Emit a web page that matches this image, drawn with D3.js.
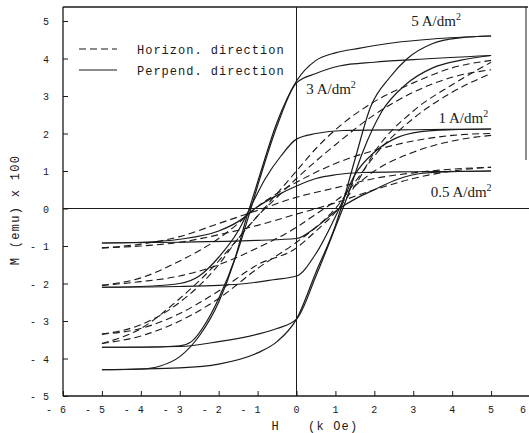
<!DOCTYPE html>
<html>
<head>
<meta charset="utf-8">
<script src="https://cdn.jsdelivr.net/npm/d3@7"></script>
<style>
html,body{margin:0;padding:0;background:#fff;}
svg{display:block;}
</style>
</head>
<body>
<svg id="chart" width="529" height="433"></svg>
<script>
// ---- data (H in kOe, M in emu x 100) ----
const xTicks = [-6,-5,-4,-3,-2,-1,0,1,2,3,4,5,6];
const yTicks = [-5,-4,-3,-2,-1,0,1,2,3,4,5];

// Perpendicular direction (solid)
const perp5Upper = [[-5,-4.3],[-4,-4.28],[-3.5,-4.2],[-3,-3.95],[-2.5,-3.4],[-2,-2.5],[-1.6,-1.4],[-1.3,-0.3],[-1,0.7],[-0.5,2.3],[0,3.4],[0.5,3.95],[1,4.15],[1.6,4.27],[2.5,4.42],[3.5,4.52],[5,4.6]];
const perp5Lower = [[-5,-4.3],[-3,-4.25],[-2,-4.15],[-1,-3.85],[-0.5,-3.55],[0,-2.95],[0.5,-1.7],[1,-0.45],[1.2,0.2],[1.5,1.3],[1.9,2.7],[2.4,3.5],[2.85,4.0],[3.5,4.4],[4.2,4.55],[5,4.6]];
const perp3Upper = [[-5,-3.7],[-4,-3.7],[-3,-3.66],[-2.7,-3.55],[-2.3,-3.0],[-2,-2.4],[-1.5,-1.1],[-1.2,-0.1],[-1,0.6],[-0.5,2.2],[0,3.35],[0.5,3.6],[1.1,3.8],[2,3.9],[3,3.97],[5,4.08]];
const perp3Lower = [[-5,-3.7],[-3,-3.68],[-2,-3.55],[-1,-3.35],[-0.5,-3.2],[0,-2.95],[0.5,-1.8],[1,-0.5],[1.3,0.3],[1.7,1.5],[2.2,2.6],[2.8,3.3],[3.5,3.75],[4.2,3.95],[5,4.08]];
const perp1Upper = [[-5,-2.1],[-4,-2.08],[-3,-2.0],[-2.5,-1.8],[-2,-1.3],[-1.5,-0.6],[-1.2,0],[-0.8,0.8],[-0.4,1.4],[0,1.85],[0.5,2.0],[1.2,2.08],[3,2.1],[5,2.12]];
const perp1Lower = [[-5,-2.1],[-3,-2.08],[-2,-2.05],[-1.3,-2.0],[-0.6,-1.9],[0,-1.8],[0.5,-1.2],[1.1,0],[1.5,0.9],[2,1.5],[2.5,1.85],[3.2,2.05],[4,2.1],[5,2.12]];
const perp05Upper = [[-5,-0.92],[-4,-0.9],[-3,-0.82],[-2,-0.6],[-1.5,-0.35],[-1,0.05],[-0.5,0.35],[0,0.6],[0.5,0.8],[1,0.9],[1.7,0.96],[3,0.98],[5,1.0]];
const perp05Lower = [[-5,-0.92],[-3,-0.9],[-1,-0.85],[0,-0.8],[0.5,-0.5],[1.1,0],[1.5,0.25],[2,0.5],[2.6,0.78],[3.25,0.94],[4,0.98],[5,1.0]];

// Horizontal direction (dashed)
const horiz5Upper = [[-5,-3.35],[-4,-3.1],[-3,-2.5],[-2,-1.5],[-1.5,-0.8],[-1,-0.2],[-0.5,0.4],[0,1.0],[0.5,1.6],[1,2.1],[2,2.85],[3,3.35],[4,3.75],[5,3.95]];
const horiz5Lower = [[-5,-3.35],[-4,-3.2],[-3,-2.8],[-2,-2.2],[-1,-1.5],[0,-1.05],[0.5,-0.6],[1,-0.1],[1.5,0.6],[2,1.5],[3,2.6],[4,3.3],[5,3.9]];
const horiz3Upper = [[-5,-3.6],[-4,-3.2],[-3,-2.4],[-2,-1.4],[-1.5,-0.8],[-1,-0.2],[-0.5,0.3],[0,0.8],[1,1.7],[2,2.5],[3,3.1],[4,3.5],[5,3.7]];
const horiz3Lower = [[-5,-3.6],[-4,-3.4],[-3,-3.0],[-2,-2.4],[-1,-1.6],[0,-0.9],[0.5,-0.5],[1,0],[1.5,0.7],[2,1.4],[3,2.4],[4,3.1],[5,3.6]];
const horiz1Upper = [[-5,-2.05],[-4,-1.85],[-3,-1.4],[-2,-0.8],[-1.5,-0.4],[-1,0.05],[-0.5,0.4],[0,0.7],[1,1.2],[2,1.55],[3,1.8],[4,1.95],[5,2.0]];
const horiz1Lower = [[-5,-2.05],[-4,-1.95],[-3,-1.8],[-2,-1.5],[-1,-1.05],[0,-0.5],[0.5,-0.15],[1,0.2],[1.5,0.6],[2,1.0],[3,1.5],[4,1.8],[5,1.95]];
const horiz05Upper = [[-5,-1.05],[-4,-0.95],[-3,-0.75],[-2,-0.4],[-1,-0.05],[0,0.3],[1,0.55],[2,0.8],[3,0.95],[4,1.05],[5,1.1]];
const horiz05Lower = [[-5,-1.05],[-4,-1.0],[-3,-0.9],[-2,-0.7],[-1,-0.45],[0,-0.15],[1,0.15],[2,0.5],[3,0.8],[4,1.0],[5,1.1]];

const perpSeries = [perp5Upper, perp5Lower, perp3Upper, perp3Lower, perp1Upper, perp1Lower, perp05Upper, perp05Lower];
const horizSeries = [horiz5Upper, horiz5Lower, horiz3Upper, horiz3Lower, horiz1Upper, horiz1Lower, horiz05Upper, horiz05Lower];

const labels = [
  {text:"5 A/dm", H:2.95, M:4.88},
  {text:"3 A/dm", H:0.25, M:3.05},
  {text:"1 A/dm", H:3.65, M:2.28},
  {text:"0.5 A/dm", H:3.45, M:0.3}
];
const legendItems = [
  {text:"Horizon. direction", dashed:true},
  {text:"Perpend. direction", dashed:false}
];

// ---- drawing ----
const svg = d3.select("#chart");
const ink = "#1a1a1a";
const x = d3.scaleLinear().domain([-6,6]).range([63,530]);
const y = d3.scaleLinear().domain([-5,5]).range([396,21]);
const mono = "'Liberation Mono','DejaVu Sans Mono',monospace";
const serif = "'Liberation Serif','DejaVu Serif',serif";

// frame
svg.append("line").attr("x1",63).attr("x2",528).attr("y1",7).attr("y2",7).attr("stroke",ink).attr("stroke-width",1.3);
svg.append("line").attr("x1",526).attr("x2",526).attr("y1",7).attr("y2",160).attr("stroke",ink).attr("stroke-width",1);

// axes
const xAxis = d3.axisBottom(x).tickValues(xTicks).tickSize(-5).tickFormat("");
const gx = svg.append("g").attr("transform","translate(0,396)").call(xAxis);
gx.select(".domain").attr("d",`M63,0H529`).attr("stroke",ink).attr("stroke-width",1.3);
gx.selectAll(".tick line").attr("stroke",ink);

const yAxis = d3.axisLeft(y).tickValues(yTicks).tickSize(-5).tickFormat("");
const gy = svg.append("g").attr("transform","translate(63,0)").call(yAxis);
gy.select(".domain").attr("d",`M0,7V396`).attr("stroke",ink).attr("stroke-width",1.3);
gy.selectAll(".tick line").attr("stroke",ink);

// tick labels
const tl = svg.append("g").attr("font-family",mono).attr("font-size",10).attr("fill",ink);
xTicks.forEach(v=>{
  const px = Math.min(x(v), 523);
  tl.append("text").attr("x",px).attr("y",413).attr("text-anchor","middle").text(Math.abs(v));
  if(v<0) tl.append("text").attr("x",px-14).attr("y",413).attr("text-anchor","middle").text("-");
});
yTicks.forEach(v=>{
  tl.append("text").attr("x",46).attr("y",y(v)+4).attr("text-anchor","middle").text(Math.abs(v));
  if(v<0) tl.append("text").attr("x",33).attr("y",y(v)+4).attr("text-anchor","middle").text("-");
});

// axis titles
svg.append("text").attr("x",275).attr("y",430).attr("font-family",mono).attr("font-size",12).attr("fill",ink).attr("text-anchor","middle").text("H");
svg.append("text").attr("x",308).attr("y",430).attr("font-family",mono).attr("font-size",12).attr("letter-spacing",1.2).attr("fill",ink).text("(k Oe)");
svg.append("text").attr("transform","translate(19,210) rotate(-90)").attr("font-family",mono).attr("font-size",12).attr("letter-spacing",1.3).attr("fill",ink).attr("text-anchor","middle").text("M (emu) x 100");

// zero lines
svg.append("line").attr("x1",63).attr("x2",529).attr("y1",y(0)).attr("y2",y(0)).attr("stroke",ink).attr("stroke-width",1.2);
svg.append("line").attr("x1",x(0)).attr("x2",x(0)).attr("y1",7).attr("y2",396).attr("stroke",ink).attr("stroke-width",1);

// curves
const line = d3.line().x(d=>x(d[0])).y(d=>y(d[1])).curve(d3.curveMonotoneX);
svg.append("g").selectAll("path").data(horizSeries).join("path")
  .attr("d",line).attr("fill","none").attr("stroke",ink).attr("stroke-width",1.1).attr("stroke-dasharray","7,4");
svg.append("g").selectAll("path").data(perpSeries).join("path")
  .attr("d",line).attr("fill","none").attr("stroke",ink).attr("stroke-width",1.2);

// annotations
labels.forEach(l=>{
  const t = svg.append("text").attr("x",x(l.H)).attr("y",y(l.M)).attr("font-family",serif).attr("font-size",15).attr("fill",ink);
  t.append("tspan").text(l.text);
  t.append("tspan").attr("dy",-6).attr("font-size",10).text("2");
});

// legend
legendItems.forEach((d,i)=>{
  const ly = 49 + i*21;
  svg.append("line").attr("x1",79).attr("x2",117).attr("y1",ly).attr("y2",ly).attr("stroke",ink).attr("stroke-width",1.2)
    .attr("stroke-dasharray",d.dashed?"7,4":null);
  svg.append("text").attr("x",137).attr("y",ly+5).attr("font-family",mono).attr("font-size",12).attr("letter-spacing",1).attr("fill",ink).text(d.text);
});
</script>
</body>
</html>
